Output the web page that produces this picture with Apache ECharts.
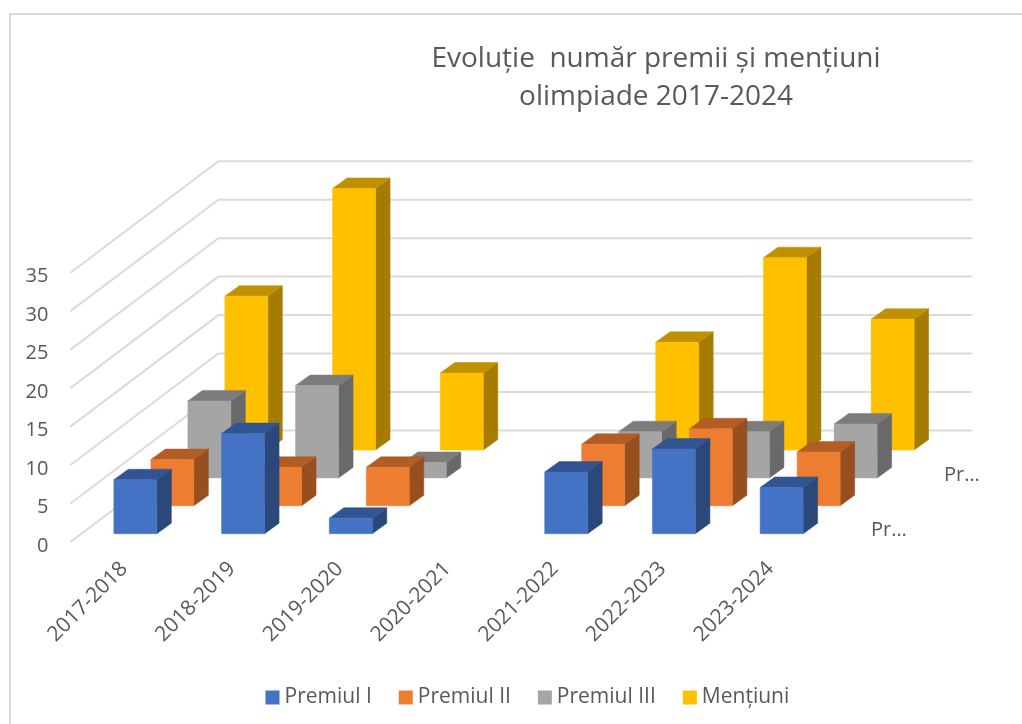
<!DOCTYPE html>
<html><head><meta charset="utf-8">
<style>html,body{margin:0;padding:0;background:#fff}#c{width:1022px;height:724px}</style>
<script src="https://cdn.jsdelivr.net/npm/echarts@6/dist/echarts.min.js"></script>
</head><body><div id="c"></div>
<script>
var categories = ['2017-2018','2018-2019','2019-2020','2020-2021','2021-2022','2022-2023','2023-2024'];
var premiulI   = [7, 13, 2, null, 8, 11, 6];
var premiulII  = [6, 5, 5, null, 8, 10, 7];
var premiulIII = [10, 12, 2, null, 6, 6, 7];
var mentiuni   = [20, 34, 10, null, 14, 25, 17];
var valueTicks = [0, 5, 10, 15, 20, 25, 30, 35];
var seriesNames = ['Premiul I','Premiul II','Premiul III','Mențiuni'];
var titleLines = 'Evoluție  număr premii și mențiuni\nolimpiade 2017-2024';
var FONT = '"Open Sans", "Noto Sans", sans-serif';
var TXT = '#595959';
var faces = [
  {front:'#4472C4', top:'#325492', side:'#2A4879'},
  {front:'#ED7D31', top:'#B15D24', side:'#984F1F'},
  {front:'#A5A5A5', top:'#7C7C7C', side:'#696969'},
  {front:'#FFC000', top:'#BF9000', side:'#A67C00'}
];
var DEPTH_X = 148, DEPTH_Y = 111.5, SLOTS = 4, SLOT_OFF = 0.3, BAR_W = 43, CAP_X = 14.5, CAP_Y = 10.5;

function barRender(slot){
  return function(params, api){
    var v = api.value(1);
    if (v == null || isNaN(v)) return;
    var top = api.coord([api.value(0), v]);
    var base = api.coord([api.value(0), 0]);
    var ox = DEPTH_X/SLOTS*(slot+SLOT_OFF), oy = -DEPTH_Y/SLOTS*(slot+SLOT_OFF);
    var x0 = top[0]+ox-BAR_W/2, x1 = x0+BAR_W, yt = top[1]+oy, yb = base[1]+oy;
    var f = faces[slot];
    function poly(pts, c){return {type:'polygon', shape:{points:pts}, style:{fill:c, stroke:c, lineWidth:0.5}};}
    return {type:'group', children:[
      poly([[x1,yt],[x1+CAP_X,yt-CAP_Y],[x1+CAP_X,yb-CAP_Y],[x1,yb]], f.side),
      poly([[x0,yt],[x0+CAP_X,yt-CAP_Y],[x1+CAP_X,yt-CAP_Y],[x1,yt]], f.top),
      {type:'rect', shape:{x:x0,y:yt,width:BAR_W,height:yb-yt}, style:{fill:f.front, stroke:f.front, lineWidth:0.5}}
    ]};
  };
}
function wallRender(params, api){
  var step = api.size([1,0])[0];
  var a = api.coord([0, api.value(0)]);
  var b = api.coord([categories.length-1, api.value(0)]);
  var xl = a[0]-step/2, xr = b[0]+step/2, y = a[1];
  return {type:'polyline', shape:{points:[[xl,y],[xl+DEPTH_X,y-DEPTH_Y],[xr+DEPTH_X,y-DEPTH_Y]]},
    style:{fill:null, stroke:'#DBDBDB', lineWidth:2}};
}
var dataSets = [premiulI, premiulII, premiulIII, mentiuni];
var series = [{
  type:'custom', name:'walls', coordinateSystem:'cartesian2d', z:1, silent:true,
  renderItem:wallRender, encode:{y:0}, clip:false,
  data:valueTicks.map(function(t){return [t];})
}];
dataSets.forEach(function(arr, s){
  series.push({
    type:'custom', name:seriesNames[s], coordinateSystem:'cartesian2d', z:10-s, clip:false,
    itemStyle:{color:faces[s].front},
    renderItem:barRender(s), encode:{x:0,y:1},
    data:arr.map(function(v,i){return [i, v];})
  });
});
var chart = echarts.init(document.getElementById('c'), null, {renderer:'canvas'});
chart.setOption({
  animation:false,
  backgroundColor:'#fff',
  textStyle:{fontFamily:FONT},
  title:{text:titleLines, left:651, top:35, textAlign:'center',
    textStyle:{fontFamily:FONT, fontSize:28, fontWeight:'normal', color:TXT, lineHeight:38}},
  legend:{data:seriesNames, left:260.5, top:682, itemWidth:14, itemHeight:14, itemGap:27, icon:'rect',
    textStyle:{fontFamily:FONT, fontSize:21, color:TXT}},
  grid:{left:70.4, top:272.7, width:754, height:269.3, containLabel:false},
  xAxis:{type:'category', data:categories, boundaryGap:true,
    axisLine:{show:false}, axisTick:{show:false}, splitLine:{show:false},
    axisLabel:{rotate:45, interval:0, margin:23.5, fontFamily:FONT, fontSize:21, color:TXT}},
  yAxis:{type:'value', min:0, max:35, interval:5,
    axisLine:{show:false}, axisTick:{show:false}, splitLine:{show:false},
    axisLabel:{margin:22, verticalAlign:'top', lineHeight:8, fontFamily:FONT, fontSize:20, color:TXT}},
  graphic:[
    {type:'polyline', silent:true, z:0, shape:{points:[[10,724],[10,14],[1022,14]]}, style:{fill:null, stroke:'#DBDBDB', lineWidth:2}},
    {type:'text', left:871, top:520, style:{text:'Pr…', fontFamily:FONT, fontSize:20, fill:TXT}},
    {type:'text', left:944, top:465, style:{text:'Pr…', fontFamily:FONT, fontSize:20, fill:TXT}}
  ],
  series:series
});
</script></body></html>
